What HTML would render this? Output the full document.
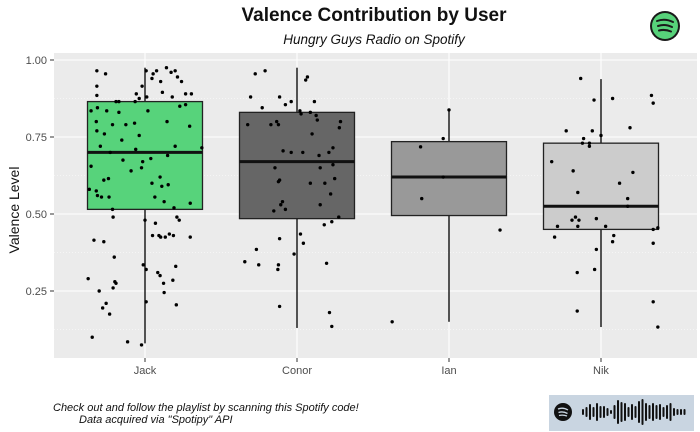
<!DOCTYPE html>
<html><head><meta charset="utf-8">
<style>
body{margin:0;background:#fff;}
svg{display:block;font-family:"Liberation Sans",sans-serif;}
</style></head>
<body>
<svg id="chart" width="700" height="432" viewBox="0 0 700 432">
<rect x="0" y="0" width="700" height="432" fill="#fff"/>
<text x="374" y="21" text-anchor="middle" font-size="19" font-weight="bold" fill="#111">Valence Contribution by User</text>
<text x="374" y="44" text-anchor="middle" font-size="13.5" font-style="italic" fill="#111">Hungry Guys Radio on Spotify</text>
<g>
<circle cx="665" cy="26" r="15" fill="#1a1a1a"/>
<circle cx="665" cy="26" r="13" fill="#57d27a"/>
<path d="M657 21 Q665 18 673 22 M658 26 Q665 23.5 672 27 M659 30.5 Q665 29 671 31.5" stroke="#1a1a1a" stroke-width="2" fill="none" stroke-linecap="round"/>
</g>
<rect x="54" y="53" width="643" height="305" fill="#ebebeb"/>
<g id="grid"></g>
<g id="boxes"></g>
<g id="points"></g>
<g id="axes"></g>
<text transform="translate(19,210) rotate(-90)" text-anchor="middle" font-size="14" fill="#111">Valence Level</text>
<text x="53" y="411" font-size="11" font-style="italic" fill="#111">Check out and follow the playlist by scanning this Spotify code!</text>
<text x="79" y="423" font-size="11" font-style="italic" fill="#111">Data acquired via "Spotipy" API</text>
<g>
<rect x="549" y="395" width="145" height="36" fill="#c9d5e1"/>
<circle cx="563" cy="412" r="9" fill="#111"/>
<path d="M558 409 Q563 407 568 410 M558.5 412.5 Q563 411 567.5 413.5 M559 415.5 Q563 414.5 567 416" stroke="#c9d5e1" stroke-width="1.3" fill="none"/>
<g id="code"></g>
</g>
</svg>
<script>
const categories=["Jack","Conor","Ian","Nik"];
const q1=[0.515,0.485,0.495,0.45];
const medians=[0.70,0.67,0.62,0.525];
const q3=[0.865,0.83,0.735,0.73];
const whiskLo=[0.08,0.13,0.15,0.133];
const whiskHi=[0.975,0.975,0.84,0.938];
const fills=["#57d37b","#666666","#999999","#cccccc"];
const yTicks=[0.25,0.50,0.75,1.00];
const yTickLabels=["0.25","0.50","0.75","1.00"];
// jitter points: [category index, horizontal jitter (-1..1), valence]
const jackPts=[[-.83,.965],[-.68,.955],[-.83,.915],[-.83,.885],[-.5,.865],[-.93,.835],[-.82,.845],[-.66,.835],[-.84,.80],[-.83,.77],[-.7,.76],[-.77,.72],[-.93,.655],[-.84,.575],[-.82,.56],[-.75,.555],[-.62,.555],[-.56,.515],[-.55,.49],[-.63,.615],[-.71,.61],[-.6,.70],[-.56,.79],[-.45,.865],[-.45,.83],[-.4,.74],[-.38,.675],[-.33,.79],[-.24,.64],[-.16,.71],[-.18,.795],[-.1,.755],[-.17,.865],[-.06,.65],[-.04,.67],[.1,.68],[.05,.835],[.12,.60],[.17,.555],[.26,.62],[.29,.59],[.33,.54],[.4,.595],[.39,.69],[.5,.52],[.38,.8],[.52,.72],[.6,.85],[.7,.855],[.78,.535],[.77,.785],[.98,.715],[-.05,.915],[.02,.965],[.12,.94],[.14,.955],[.2,.965],[.27,.93],[.3,.895],[.37,.975],[.45,.96],[.52,.965],[.56,.945],[.63,.93],[.7,.89],[.47,.88],[-.15,.89],[-.1,.875],[.03,.88],[.8,.89],[-.96,.58],[-.88,.415],[-.71,.41],[-.98,.29],[-.79,.25],[-.67,.21],[-.73,.195],[-.61,.175],[-.91,.10],[-.53,.36],[-.52,.28],[-.55,.26],[-.5,.275],[-.3,.085],[-.06,.075],[-.03,.335],[.02,.32],[.02,.215],[.0,.48],[.18,.47],[.13,.43],[.24,.43],[.27,.425],[.35,.425],[.42,.435],[.49,.43],[.22,.31],[.26,.30],[.32,.275],[.33,.245],[.48,.285],[.53,.33],[.54,.205],[.78,.425],[.55,.49],[.59,.48]];
const conorPts=[[-.9,.345],[-.7,.385],[-.66,.335],[-.8,.88],[-.72,.955],[-.55,.965],[-.6,.845],[-.85,.79],[-.45,.79],[-.32,.79],[-.38,.65],[-.3,.88],[-.2,.855],[-.1,.865],[.05,.835],[.07,.825],[.15,.935],[.18,.945],[.3,.865],[.33,.82],[.35,.805],[.26,.76],[.23,.83],[-.24,.705],[-.32,.605],[-.3,.61],[-.25,.54],[-.28,.53],[-.2,.515],[-.1,.70],[.1,.70],[.23,.60],[.38,.69],[.4,.65],[.48,.60],[.55,.70],[.62,.715],[.62,.66],[.65,.615],[.58,.565],[.4,.53],[.47,.465],[.6,.475],[.72,.49],[.06,.435],[.11,.405],[-.05,.37],[-.3,.42],[-.32,.335],[-.33,.32],[-.3,.20],[.51,.34],[.56,.18],[.6,.135],[-.4,.51],[.75,.80],[.73,.78],[-.35,.80]];
const ianPts=[[-.49,.718],[-.47,.55],[-.1,.62],[.0,.838],[-.1,.745],[.88,.448],[-.98,.15]];
const nikPts=[[-.35,.94],[-.12,.87],[.2,.875],[.87,.885],[.9,.86],[-.6,.77],[-.15,.77],[.5,.78],[-.3,.745],[-.32,.73],[-.2,.73],[-.2,.72],[.0,.755],[-.85,.67],[-.48,.64],[-.4,.57],[.55,.635],[.32,.60],[.46,.55],[.46,.525],[-.5,.48],[-.44,.49],[-.38,.48],[-.75,.46],[-.4,.46],[-.08,.485],[.08,.46],[.9,.45],[.98,.455],[.9,.405],[-.8,.425],[.22,.43],[.2,.41],[-.08,.385],[-.41,.31],[-.11,.32],[.9,.215],[-.41,.185],[.98,.133]];
const allPts=[jackPts,conorPts,ianPts,nikPts];

const NS="http://www.w3.org/2000/svg";
const plotL=54,plotR=697,plotT=53,plotB=358;
const yS=v=>60+(1-v)*308;
const xS=i=>145+i*152;
const halfW=57.5, jitW=58;
function mk(tag,attrs,parent){const e=document.createElementNS(NS,tag);for(const k in attrs)e.setAttribute(k,attrs[k]);parent.appendChild(e);return e;}

const grid=document.getElementById("grid");
for(let i=0;i<yTicks.length;i++){
  const y=yS(yTicks[i]);
  const l=mk("line",{x1:plotL,x2:plotR,y1:y,y2:y,stroke:"#fff","stroke-width":1.1},grid);
  
  
  if(i<yTicks.length-1){
    const ym=yS((yTicks[i]+yTicks[i+1])/2);
    const m=mk("line",{x1:plotL,x2:plotR,y1:ym,y2:ym,stroke:"#fff","stroke-width":0.6,"stroke-dasharray":"1 2"},grid);
    
    
  }
}
const ym0=yS(0.125);
const m0=mk("line",{x1:plotL,x2:plotR,y1:ym0,y2:ym0,stroke:"#fff","stroke-width":0.6,"stroke-dasharray":"1 2"},grid);


categories.forEach((c,i)=>{
  const g=mk("line",{x1:xS(i),x2:xS(i),y1:plotT,y2:plotB,stroke:"#fff","stroke-width":1.1},grid);
  
  
});

const boxes=document.getElementById("boxes");
categories.forEach((c,i)=>{
  const x=xS(i);
  const g=mk("g",{},boxes);
  
  
  mk("line",{x1:x,x2:x,y1:yS(whiskHi[i]),y2:yS(q3[i]),stroke:"#111","stroke-width":1.4},g);
  mk("line",{x1:x,x2:x,y1:yS(q1[i]),y2:yS(whiskLo[i]),stroke:"#111","stroke-width":1.4},g);
  mk("rect",{x:x-halfW,y:yS(q3[i]),width:halfW*2,height:yS(q1[i])-yS(q3[i]),fill:fills[i],stroke:"#222","stroke-width":1.3},g);
  mk("line",{x1:x-halfW,x2:x+halfW,y1:yS(medians[i]),y2:yS(medians[i]),stroke:"#111","stroke-width":3},g);
});

const pts=document.getElementById("points");
allPts.forEach((arr,i)=>{
  arr.forEach(p=>{
    const c=mk("circle",{cx:xS(i)+p[0]*jitW,cy:yS(p[1]),r:1.7,fill:"#000"},pts);
    
    
  });
});

const axes=document.getElementById("axes");
yTicks.forEach((v,i)=>{
  const y=yS(v);
  mk("line",{x1:50,x2:54,y1:y,y2:y,stroke:"#333","stroke-width":1},axes);
  const t=mk("text",{x:47,y:y+4,"text-anchor":"end","font-size":11,fill:"#4d4d4d"},axes);
  t.textContent=yTickLabels[i];
  
  
});
categories.forEach((c,i)=>{
  const x=xS(i);
  mk("line",{x1:x,x2:x,y1:358,y2:362,stroke:"#333","stroke-width":1},axes);
  const t=mk("text",{x:x,y:374,"text-anchor":"middle","font-size":11,fill:"#4d4d4d"},axes);
  t.textContent=c;
  
  
});

// spotify code bars (decorative)
const codeH=[3,5,8,5,9,6,6,4,2,7,12,10,9,5,8,6,11,13,9,7,9,7,8,5,7,9,4,3,3,3];
const code=document.getElementById("code");
codeH.forEach((h,k)=>{
  mk("rect",{x:582+k*3.5,y:412-h,width:2,height:h*2,fill:"#111",rx:1},code);
});
</script>
</body></html>
